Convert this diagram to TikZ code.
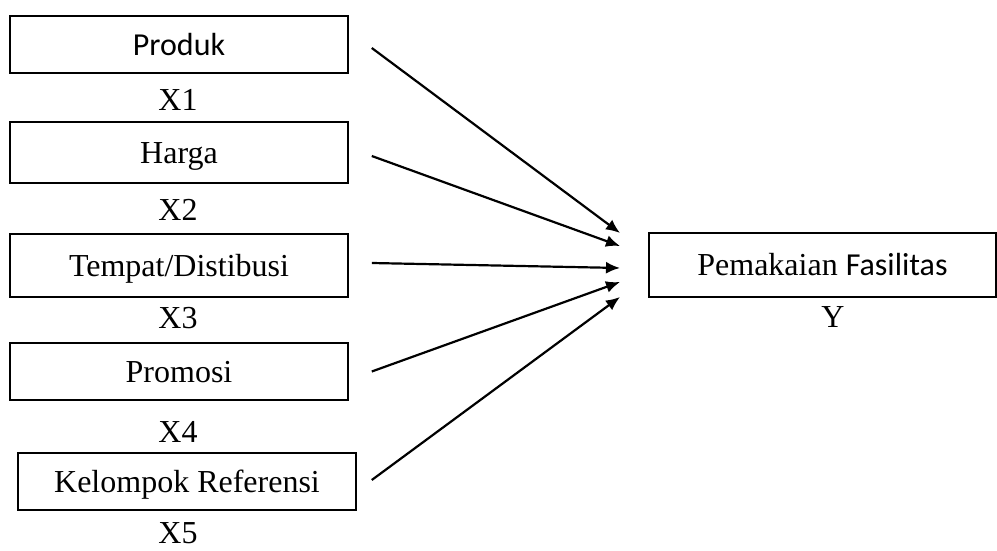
\documentclass[tikz,border=0pt]{standalone}
\usepackage{fontspec}
\setmainfont{Liberation Serif}
\newfontfamily\carlito{Carlito}
\usetikzlibrary{arrows.meta}
\begin{document}
\begin{tikzpicture}[x=0.5pt, y=-0.5pt, panah/.style={-{Latex[length=7pt, width=6pt]}, line width=1.1pt}]
        \tikzset{kotak/.style={rectangle, draw=black, line width=0.8pt, minimum width=169pt, minimum height=28.5pt, inner sep=0pt, text height=10.6pt, text depth=0pt, font=\fontsize{16}{19}\selectfont}};
        \tikzset{kode/.style={inner sep=0pt, font=\fontsize{16}{19}\selectfont}};
        \useasboundingbox (0, 0) rectangle (997, 551);

        \node[kotak] (p1) at (179, 44.5) {\carlito Produk};
        \node[kotak, minimum height=30.5pt] (p2) at (179, 152.5) {Harga};
        \node[kotak, minimum height=31.5pt] (p3) at (179, 265.5) {Tempat/Distibusi};
        \node[kotak] (p4) at (179, 371.5) {Promosi};
        \node[kotak] (p5) at (187, 481.5) {Kelompok Referensi};
        \node[kotak, minimum width=173.5pt, minimum height=32pt] (y) at (822.5, 265) {Pemakaian {\carlito Fasilitas}};

        \node[kode] (x1) at (178, 100) {X1};
        \node[kode] (x2) at (178, 210) {X2};
        \node[kode] (x3) at (178, 318) {X3};
        \node[kode] (x4) at (178, 432) {X4};
        \node[kode] (x5) at (178, 533) {X5};
        \node[kode] (ky) at (833, 317) {Y};

        % ujung panah di depan kotak Y
        \coordinate (t1) at (620, 233);
        \coordinate (t2) at (620, 246);
        \coordinate (t3) at (620, 268);
        \coordinate (t4) at (620, 282);
        \coordinate (t5) at (620, 297);

        \draw[panah] ([xshift=11.5pt, yshift=-1.75pt]p1.east) -- (t1);
        \draw[panah] ([xshift=11.5pt, yshift=-1.75pt]p2.east) -- (t2);
        \draw[panah] ([xshift=11.5pt, yshift=1.25pt]p3.east) -- (t3);
        \draw[panah] ([xshift=11.5pt]p4.east) -- (t4);
        \draw[panah] ([xshift=7.5pt, yshift=0.75pt]p5.east) -- (t5);
\end{tikzpicture}
\end{document}
